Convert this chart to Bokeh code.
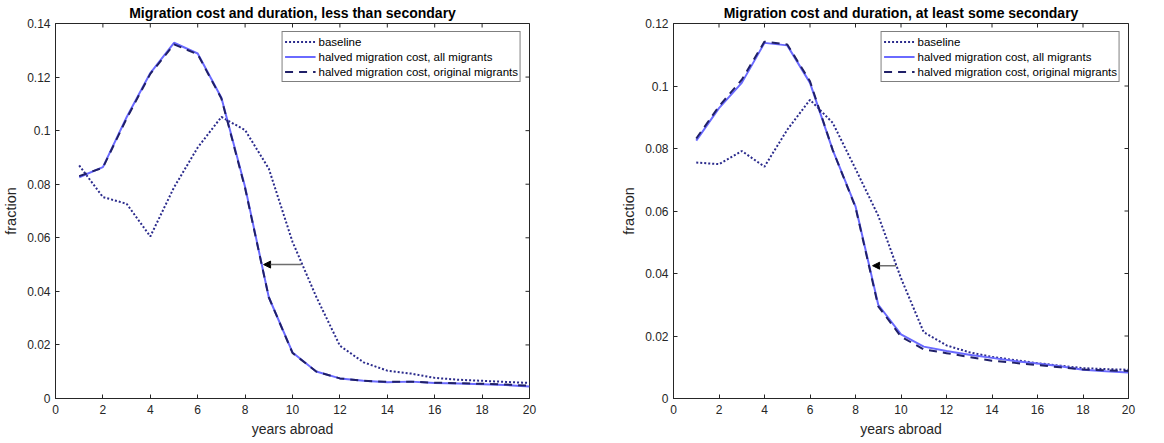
import math
from bokeh.plotting import figure
from bokeh.layouts import row
from bokeh.models import Range1d, FixedTicker, Arrow, NormalHead, Title
from bokeh.embed import file_html
from bokeh.resources import INLINE

years = list(range(1, 21))

# less than secondary
left_baseline = [0.0870, 0.0752, 0.0727, 0.0605, 0.0788, 0.0937, 0.1051, 0.1002, 0.0858, 0.0585,
                 0.0380, 0.0197, 0.0135, 0.0104, 0.0093, 0.0077, 0.0070, 0.0066, 0.0062, 0.0058]
left_all = [0.0826, 0.0864, 0.1050, 0.1215, 0.1328, 0.1288, 0.1123, 0.0790, 0.0378, 0.0172,
            0.0101, 0.0075, 0.0066, 0.0061, 0.0063, 0.0058, 0.0056, 0.0053, 0.0050, 0.0045]
left_orig = [0.0830, 0.0862, 0.1045, 0.1212, 0.1322, 0.1285, 0.1120, 0.0785, 0.0378, 0.0170,
             0.0101, 0.0075, 0.0066, 0.0062, 0.0063, 0.0059, 0.0057, 0.0055, 0.0052, 0.0048]

# at least some secondary
right_baseline = [0.0755, 0.0750, 0.0792, 0.0742, 0.0860, 0.0956, 0.0882, 0.0735, 0.0585, 0.0385,
                  0.0212, 0.0170, 0.0148, 0.0133, 0.0123, 0.0113, 0.0105, 0.0097, 0.0094, 0.0092]
right_all = [0.0825, 0.0929, 0.1010, 0.1138, 0.1130, 0.1010, 0.0795, 0.0615, 0.0300, 0.0205,
             0.0166, 0.0152, 0.0140, 0.0130, 0.0120, 0.0112, 0.0103, 0.0092, 0.0087, 0.0083]
right_orig = [0.0832, 0.0935, 0.1020, 0.1142, 0.1133, 0.1015, 0.0795, 0.0612, 0.0295, 0.0198,
              0.0157, 0.0145, 0.0133, 0.0121, 0.0114, 0.0107, 0.0100, 0.0093, 0.0090, 0.0088]

x_ticks = [0, 2, 4, 6, 8, 10, 12, 14, 16, 18, 20]
left_y_ticks = [0, 0.02, 0.04, 0.06, 0.08, 0.1, 0.12, 0.14]
left_y_labels = ["0", "0.02", "0.04", "0.06", "0.08", "0.1", "0.12", "0.14"]
right_y_ticks = [0, 0.02, 0.04, 0.06, 0.08, 0.1, 0.12]
right_y_labels = ["0", "0.02", "0.04", "0.06", "0.08", "0.1", "0.12"]

# arrows: (y, from x, to x)
left_arrow = (0.05, 10.38, 8.78)
right_arrow = (0.0425, 9.79, 8.75)

titles = ["Migration cost and duration, less than secondary",
          "Migration cost and duration, at least some secondary"]
series_names = ["baseline", "halved migration cost, all migrants",
                "halved migration cost, original migrants"]

FONT = "Liberation Sans"
AX = "#262626"
C_BASE = "#2b2b8c"
C_ALL = "#6a6aff"
C_ORIG = "#202068"


def make(title, base, allm, orig, yticks, ylabels, ymax, arrow, fw, bl, br):
    p = figure(frame_width=fw, frame_height=375,
               min_border_left=bl, min_border_right=br, min_border_top=21, min_border_bottom=38,
               x_range=Range1d(0, 20), y_range=Range1d(0, ymax),
               output_backend="svg", toolbar_location=None, title=None)
    p.add_layout(Title(text=title, text_font=FONT, text_font_size="14px", text_font_style="bold",
                       align="center", text_color="black", standoff=5, offset=0), "above")
    p.xgrid.visible = False
    p.ygrid.visible = False
    p.outline_line_color = AX
    p.outline_line_width = 1
    p.background_fill_color = "white"

    p.line(years, base, line_color=C_BASE, line_width=2, line_dash="2 2", legend_label=series_names[0])
    p.line(years, allm, line_color=C_ALL, line_width=2, legend_label=series_names[1])
    p.line(years, orig, line_color=C_ORIG, line_width=2, line_dash="8 6", legend_label=series_names[2])

    ay, ax0, ax1 = arrow
    p.add_layout(Arrow(x_start=ax0, y_start=ay, x_end=ax1, y_end=ay,
                       line_color="#6e6e6e", line_width=1.5,
                       end=NormalHead(size=7, fill_color="black", line_color="black", line_width=1)))

    # tick marks on the top and right edges of the box (inside only, clipped by the frame)
    p.scatter(x_ticks, [ymax] * len(x_ticks), marker="dash", size=8, angle=math.pi / 2,
              line_color=AX, line_width=1)
    p.scatter([20] * len(yticks), yticks, marker="dash", size=8,
              line_color=AX, line_width=1)

    for ax in p.xaxis:
        ax.ticker = FixedTicker(ticks=x_ticks)
    for ax in p.yaxis:
        ax.ticker = FixedTicker(ticks=yticks)
        ax.major_label_overrides = {t: l for t, l in zip(yticks, ylabels)}
    p.xaxis.axis_label = "years abroad"
    p.yaxis.axis_label = "fraction"

    for ax in p.axis:
        ax.axis_line_color = AX
        ax.axis_line_width = 1
        ax.major_tick_line_color = AX
        ax.major_tick_in = 4
        ax.major_tick_out = 0
        ax.minor_tick_line_color = None
        ax.axis_label_text_font = FONT
        ax.axis_label_text_font_style = "normal"
        ax.axis_label_text_color = AX
        ax.major_label_text_font = FONT
        ax.major_label_text_color = AX
        ax.major_label_text_font_size = "12px"
    p.xaxis.axis_label_text_font_size = "14px"
    p.yaxis.axis_label_text_font_size = "14.5px"
    p.xaxis.major_label_standoff = 6
    p.xaxis.axis_label_standoff = 4
    p.yaxis.major_label_standoff = 5
    p.yaxis.axis_label_standoff = 5

    lg = p.legend[0]
    lg.location = "top_right"
    lg.margin = 8
    lg.padding = 2
    lg.spacing = 0
    lg.label_height = 15
    lg.glyph_height = 15
    lg.glyph_width = 31
    lg.label_standoff = 3
    lg.label_text_font = FONT
    lg.label_text_font_size = "11.5px"
    lg.label_text_color = "black"
    lg.border_line_color = "black"
    lg.border_line_width = 1
    lg.background_fill_alpha = 1
    return p


p1 = make(titles[0], left_baseline, left_all, left_orig, left_y_ticks, left_y_labels, 0.14, left_arrow, 474, 45, 80)
p2 = make(titles[1], right_baseline, right_all, right_orig, right_y_ticks, right_y_labels, 0.12, right_arrow, 455, 64, 20)

layout = row(p1, p2)
open("out.html", "w").write(file_html(layout, INLINE))
